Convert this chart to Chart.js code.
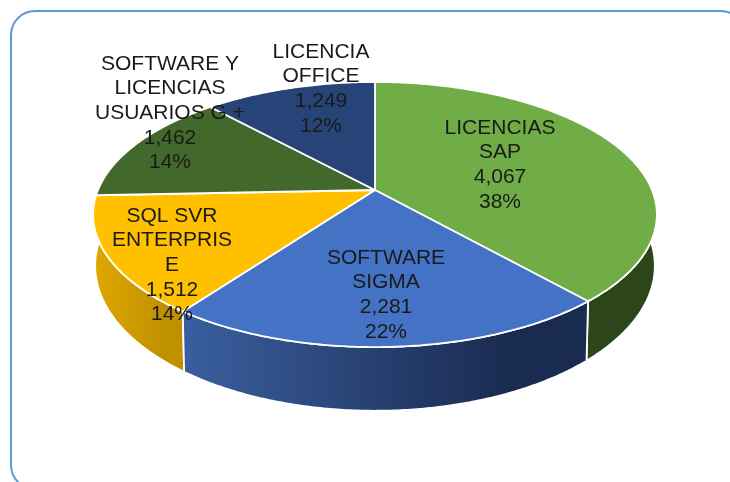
<!DOCTYPE html>
<html>
<head>
<meta charset="utf-8">
<script src="https://cdn.jsdelivr.net/npm/chart.js@4/dist/chart.umd.min.js"></script>
<style>
html,body{margin:0;padding:0;background:#fff;width:730px;height:482px;overflow:hidden}
#frame{position:absolute;left:10px;top:10px;width:732px;height:476px;border:2px solid #5B9BD5;border-radius:25px}
#wrap{position:absolute;left:0;top:0;width:730px;height:482px}
</style>
</head>
<body>
<div id="frame"></div>
<div id="wrap"><canvas id="c" width="730" height="482"></canvas></div>
<script>
const categories = [["LICENCIAS","SAP"],["SOFTWARE","SIGMA"],["SQL SVR","ENTERPRIS","E"],["SOFTWARE Y","LICENCIAS","USUARIOS G +"],["LICENCIA","OFFICE"]];
const values = [4067, 2281, 1512, 1462, 1249];
const topColors = ["#70AD47","#4472C4","#FFC000","#43682B","#264478"];
const wallColorsLeft = ["#2D4619","#3A5F9F","#DFA800","#2D4619","#1A2C50"];
const wallColorsRight = ["#2D4619","#1A2B50","#BF9000","#2D4619","#1A2C50"];
const labelCenterX = [500,386,172,170,321];
const labelFirstLineY = [128,258,216,64,52];

const LINE_H = 24.6;
const top3d = {cx:375, cy:190, a:277, b:128, k:0.185};
const low3d = {cx:375, cy:239, a:275, b:140, k:0.185};

function proj(p, angle){
  const t = angle + Math.PI/2;
  const w = 1 + p.k*Math.cos(t);
  return [p.cx + p.a*Math.sin(t)/w, p.cy - p.b*Math.cos(t)/w];
}
function arcPoints(p, s, e){
  const n = Math.max(2, Math.ceil((e-s)/0.01)), pts = [];
  for(let i=0;i<=n;i++) pts.push(proj(p, s+(e-s)*i/n));
  return pts;
}
const pie3d = {
  id:'pie3d',
  beforeDatasetDraw(chart){
    const ctx = chart.ctx, arcs = chart.getDatasetMeta(0).data;
    ctx.save();
    ctx.lineJoin = 'round';
    ctx.strokeStyle = '#fff';
    ctx.lineWidth = 1.8;
    // side walls, back to front
    const order = [3,4,2,0,1];
    order.forEach(i=>{
      const a = arcs[i];
      const up = arcPoints(top3d, a.startAngle, a.endAngle);
      const lo = arcPoints(low3d, a.startAngle, a.endAngle);
      const xs = up.map(q=>q[0]);
      const g = ctx.createLinearGradient(Math.min(...xs),0,Math.max(...xs),0);
      g.addColorStop(0,wallColorsLeft[i]);
      g.addColorStop(0.8,wallColorsRight[i]);
      g.addColorStop(1,wallColorsRight[i]);
      ctx.beginPath();
      up.forEach((q,j)=> j?ctx.lineTo(q[0],q[1]):ctx.moveTo(q[0],q[1]));
      lo.reverse().forEach(q=>ctx.lineTo(q[0],q[1]));
      ctx.closePath();
      ctx.fillStyle = g;
      ctx.fill();
      ctx.stroke();
    });
    // top faces
    arcs.forEach((a,i)=>{
      const up = arcPoints(top3d, a.startAngle, a.endAngle);
      ctx.beginPath();
      ctx.moveTo(top3d.cx, top3d.cy);
      up.forEach(q=>ctx.lineTo(q[0],q[1]));
      ctx.closePath();
      ctx.fillStyle = a.options.backgroundColor;
      ctx.fill();
      ctx.stroke();
    });
    ctx.restore();
    return false;
  },
  afterDatasetsDraw(chart){
    const ctx = chart.ctx;
    const total = values.reduce((s,v)=>s+v,0);
    ctx.save();
    ctx.font = '21px "Liberation Sans", Arial, sans-serif';
    ctx.fillStyle = '#1a1a1a';
    ctx.textAlign = 'center';
    ctx.textBaseline = 'middle';
    categories.forEach((lines,i)=>{
      const all = [...lines, values[i].toLocaleString('en-US'), Math.round(values[i]/total*100)+'%'];
      all.forEach((t,j)=>ctx.fillText(t, labelCenterX[i], labelFirstLineY[i]+j*LINE_H));
    });
    ctx.restore();
  }
};
new Chart(document.getElementById('c'),{
  type:'pie',
  data:{labels:categories.map(l=>l.join(' ')),datasets:[{data:values,backgroundColor:topColors,borderColor:'#fff',borderWidth:1}]},
  options:{responsive:false,animation:false,plugins:{legend:{display:false},tooltip:{enabled:false},title:{display:false}}},
  plugins:[pie3d]
});
</script>
</body>
</html>
